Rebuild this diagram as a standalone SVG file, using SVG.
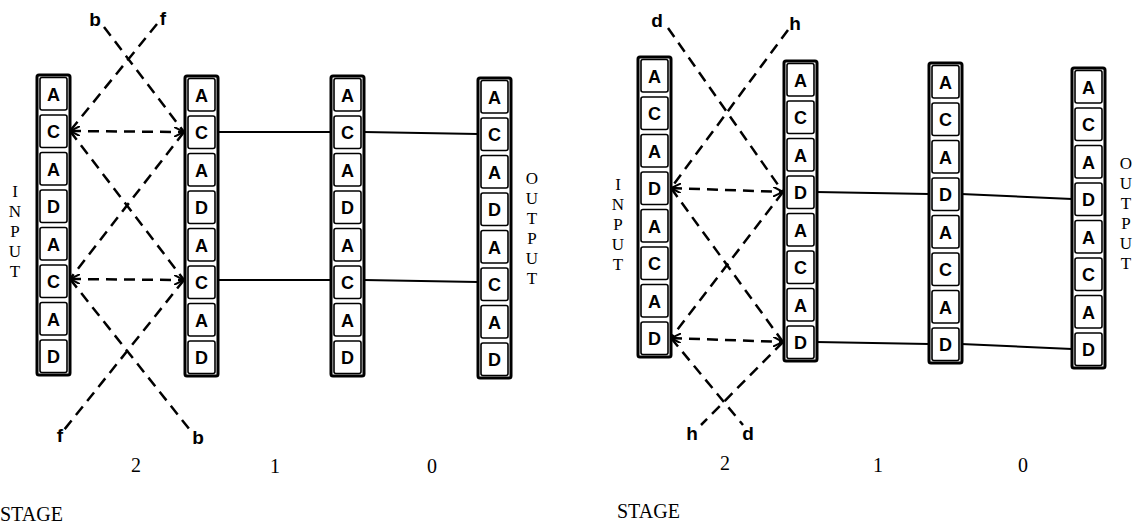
<svg xmlns="http://www.w3.org/2000/svg" width="1144" height="526" viewBox="0 0 1144 526">
<defs>
<style>
.col{fill:#fff;stroke:#000;stroke-width:3}
.cell{fill:#fff;stroke:#000;stroke-width:1.6}
.lt{font-family:"Liberation Sans",Arial,sans-serif;font-weight:bold;font-size:18px;text-anchor:middle;fill:#000}
.lab{font-family:"Liberation Sans",Arial,sans-serif;font-weight:bold;font-size:19px;text-anchor:middle;fill:#000}
.serif{font-family:"Liberation Serif","Times New Roman",serif;font-size:20px;fill:#000}
.vt{font-family:"Liberation Serif","Times New Roman",serif;font-size:17px;text-anchor:middle;fill:#000}
.num{font-family:"Liberation Serif","Times New Roman",serif;font-size:20px;text-anchor:middle;fill:#000}
.solid{stroke:#000;stroke-width:2;fill:none}
.dash{stroke:#000;stroke-width:2.5;fill:none;stroke-dasharray:11 7}
</style>
<marker id="ah" viewBox="0 0 10 10" refX="10" refY="5" markerWidth="10" markerHeight="10" markerUnits="userSpaceOnUse" orient="auto-start-reverse">
<path d="M0,0 L10,5 L0,10" fill="none" stroke="#000" stroke-width="2" stroke-dasharray="none"/>
</marker>
</defs>

<g id="connectors">
<line class="solid" x1="218" y1="132" x2="331" y2="132"/>
<line class="solid" x1="364" y1="132" x2="478" y2="134"/>
<line class="solid" x1="218" y1="280" x2="331" y2="280"/>
<line class="solid" x1="364" y1="280" x2="478" y2="282"/>
<line class="dash" x1="70" y1="131" x2="184" y2="132" marker-start="url(#ah)" marker-end="url(#ah)"/>
<line class="dash" x1="70" y1="279" x2="184" y2="280" marker-start="url(#ah)" marker-end="url(#ah)"/>
<line class="dash" x1="104" y1="27" x2="184" y2="132"/>
<line class="dash" x1="157" y1="24" x2="70" y2="131"/>
<line class="dash" x1="70" y1="131" x2="184" y2="280"/>
<line class="dash" x1="184" y1="132" x2="70" y2="279"/>
<line class="dash" x1="70" y1="279" x2="190" y2="430"/>
<line class="dash" x1="184" y1="280" x2="64" y2="430"/>
<line class="solid" x1="816" y1="192" x2="929" y2="194"/>
<line class="solid" x1="961" y1="194" x2="1072" y2="199"/>
<line class="solid" x1="816" y1="342" x2="929" y2="344"/>
<line class="solid" x1="961" y1="344" x2="1072" y2="349"/>
<line class="dash" x1="671" y1="188" x2="783" y2="192" marker-start="url(#ah)" marker-end="url(#ah)"/>
<line class="dash" x1="671" y1="338" x2="783" y2="342" marker-start="url(#ah)" marker-end="url(#ah)"/>
<line class="dash" x1="668" y1="28" x2="783" y2="192"/>
<line class="dash" x1="788" y1="30" x2="671" y2="188"/>
<line class="dash" x1="671" y1="188" x2="783" y2="342"/>
<line class="dash" x1="783" y1="192" x2="671" y2="338"/>
<line class="dash" x1="671" y1="338" x2="743" y2="425"/>
<line class="dash" x1="783" y1="342" x2="701" y2="425"/>
</g>

<g id="L-col1" transform="translate(37,75)">
<rect class="col" x="0" y="0" width="33" height="300" rx="2"/>
<rect class="cell" x="3" y="2.5" width="27" height="32.5" rx="2"/><text class="lt" x="16.5" y="25.5">A</text>
<rect class="cell" x="3" y="40" width="27" height="32.5" rx="2"/><text class="lt" x="16.5" y="63">C</text>
<rect class="cell" x="3" y="77.5" width="27" height="32.5" rx="2"/><text class="lt" x="16.5" y="100.5">A</text>
<rect class="cell" x="3" y="115" width="27" height="32.5" rx="2"/><text class="lt" x="16.5" y="138">D</text>
<rect class="cell" x="3" y="152.5" width="27" height="32.5" rx="2"/><text class="lt" x="16.5" y="175.5">A</text>
<rect class="cell" x="3" y="190" width="27" height="32.5" rx="2"/><text class="lt" x="16.5" y="213">C</text>
<rect class="cell" x="3" y="227.5" width="27" height="32.5" rx="2"/><text class="lt" x="16.5" y="250.5">A</text>
<rect class="cell" x="3" y="265" width="27" height="32.5" rx="2"/><text class="lt" x="16.5" y="288">D</text>
</g>
<g id="L-col2" transform="translate(185,76)">
<rect class="col" x="0" y="0" width="33" height="300" rx="2"/>
<rect class="cell" x="3" y="2.5" width="27" height="32.5" rx="2"/><text class="lt" x="16.5" y="25.5">A</text>
<rect class="cell" x="3" y="40" width="27" height="32.5" rx="2"/><text class="lt" x="16.5" y="63">C</text>
<rect class="cell" x="3" y="77.5" width="27" height="32.5" rx="2"/><text class="lt" x="16.5" y="100.5">A</text>
<rect class="cell" x="3" y="115" width="27" height="32.5" rx="2"/><text class="lt" x="16.5" y="138">D</text>
<rect class="cell" x="3" y="152.5" width="27" height="32.5" rx="2"/><text class="lt" x="16.5" y="175.5">A</text>
<rect class="cell" x="3" y="190" width="27" height="32.5" rx="2"/><text class="lt" x="16.5" y="213">C</text>
<rect class="cell" x="3" y="227.5" width="27" height="32.5" rx="2"/><text class="lt" x="16.5" y="250.5">A</text>
<rect class="cell" x="3" y="265" width="27" height="32.5" rx="2"/><text class="lt" x="16.5" y="288">D</text>
</g>
<g id="L-col3" transform="translate(331,76)">
<rect class="col" x="0" y="0" width="33" height="300" rx="2"/>
<rect class="cell" x="3" y="2.5" width="27" height="32.5" rx="2"/><text class="lt" x="16.5" y="25.5">A</text>
<rect class="cell" x="3" y="40" width="27" height="32.5" rx="2"/><text class="lt" x="16.5" y="63">C</text>
<rect class="cell" x="3" y="77.5" width="27" height="32.5" rx="2"/><text class="lt" x="16.5" y="100.5">A</text>
<rect class="cell" x="3" y="115" width="27" height="32.5" rx="2"/><text class="lt" x="16.5" y="138">D</text>
<rect class="cell" x="3" y="152.5" width="27" height="32.5" rx="2"/><text class="lt" x="16.5" y="175.5">A</text>
<rect class="cell" x="3" y="190" width="27" height="32.5" rx="2"/><text class="lt" x="16.5" y="213">C</text>
<rect class="cell" x="3" y="227.5" width="27" height="32.5" rx="2"/><text class="lt" x="16.5" y="250.5">A</text>
<rect class="cell" x="3" y="265" width="27" height="32.5" rx="2"/><text class="lt" x="16.5" y="288">D</text>
</g>
<g id="L-col4" transform="translate(478,78)">
<rect class="col" x="0" y="0" width="33" height="300" rx="2"/>
<rect class="cell" x="3" y="2.5" width="27" height="32.5" rx="2"/><text class="lt" x="16.5" y="25.5">A</text>
<rect class="cell" x="3" y="40" width="27" height="32.5" rx="2"/><text class="lt" x="16.5" y="63">C</text>
<rect class="cell" x="3" y="77.5" width="27" height="32.5" rx="2"/><text class="lt" x="16.5" y="100.5">A</text>
<rect class="cell" x="3" y="115" width="27" height="32.5" rx="2"/><text class="lt" x="16.5" y="138">D</text>
<rect class="cell" x="3" y="152.5" width="27" height="32.5" rx="2"/><text class="lt" x="16.5" y="175.5">A</text>
<rect class="cell" x="3" y="190" width="27" height="32.5" rx="2"/><text class="lt" x="16.5" y="213">C</text>
<rect class="cell" x="3" y="227.5" width="27" height="32.5" rx="2"/><text class="lt" x="16.5" y="250.5">A</text>
<rect class="cell" x="3" y="265" width="27" height="32.5" rx="2"/><text class="lt" x="16.5" y="288">D</text>
</g>

<g id="R-col1" transform="translate(638,57)">
<rect class="col" x="0" y="0" width="33" height="300" rx="2"/>
<rect class="cell" x="3" y="2.5" width="27" height="32.5" rx="2"/><text class="lt" x="16.5" y="25.5">A</text>
<rect class="cell" x="3" y="40" width="27" height="32.5" rx="2"/><text class="lt" x="16.5" y="63">C</text>
<rect class="cell" x="3" y="77.5" width="27" height="32.5" rx="2"/><text class="lt" x="16.5" y="100.5">A</text>
<rect class="cell" x="3" y="115" width="27" height="32.5" rx="2"/><text class="lt" x="16.5" y="138">D</text>
<rect class="cell" x="3" y="152.5" width="27" height="32.5" rx="2"/><text class="lt" x="16.5" y="175.5">A</text>
<rect class="cell" x="3" y="190" width="27" height="32.5" rx="2"/><text class="lt" x="16.5" y="213">C</text>
<rect class="cell" x="3" y="227.5" width="27" height="32.5" rx="2"/><text class="lt" x="16.5" y="250.5">A</text>
<rect class="cell" x="3" y="265" width="27" height="32.5" rx="2"/><text class="lt" x="16.5" y="288">D</text>
</g>
<g id="R-col2" transform="translate(784,61)">
<rect class="col" x="0" y="0" width="33" height="300" rx="2"/>
<rect class="cell" x="3" y="2.5" width="27" height="32.5" rx="2"/><text class="lt" x="16.5" y="25.5">A</text>
<rect class="cell" x="3" y="40" width="27" height="32.5" rx="2"/><text class="lt" x="16.5" y="63">C</text>
<rect class="cell" x="3" y="77.5" width="27" height="32.5" rx="2"/><text class="lt" x="16.5" y="100.5">A</text>
<rect class="cell" x="3" y="115" width="27" height="32.5" rx="2"/><text class="lt" x="16.5" y="138">D</text>
<rect class="cell" x="3" y="152.5" width="27" height="32.5" rx="2"/><text class="lt" x="16.5" y="175.5">A</text>
<rect class="cell" x="3" y="190" width="27" height="32.5" rx="2"/><text class="lt" x="16.5" y="213">C</text>
<rect class="cell" x="3" y="227.5" width="27" height="32.5" rx="2"/><text class="lt" x="16.5" y="250.5">A</text>
<rect class="cell" x="3" y="265" width="27" height="32.5" rx="2"/><text class="lt" x="16.5" y="288">D</text>
</g>
<g id="R-col3" transform="translate(929,63)">
<rect class="col" x="0" y="0" width="33" height="300" rx="2"/>
<rect class="cell" x="3" y="2.5" width="27" height="32.5" rx="2"/><text class="lt" x="16.5" y="25.5">A</text>
<rect class="cell" x="3" y="40" width="27" height="32.5" rx="2"/><text class="lt" x="16.5" y="63">C</text>
<rect class="cell" x="3" y="77.5" width="27" height="32.5" rx="2"/><text class="lt" x="16.5" y="100.5">A</text>
<rect class="cell" x="3" y="115" width="27" height="32.5" rx="2"/><text class="lt" x="16.5" y="138">D</text>
<rect class="cell" x="3" y="152.5" width="27" height="32.5" rx="2"/><text class="lt" x="16.5" y="175.5">A</text>
<rect class="cell" x="3" y="190" width="27" height="32.5" rx="2"/><text class="lt" x="16.5" y="213">C</text>
<rect class="cell" x="3" y="227.5" width="27" height="32.5" rx="2"/><text class="lt" x="16.5" y="250.5">A</text>
<rect class="cell" x="3" y="265" width="27" height="32.5" rx="2"/><text class="lt" x="16.5" y="288">D</text>
</g>
<g id="R-col4" transform="translate(1072,68)">
<rect class="col" x="0" y="0" width="33" height="300" rx="2"/>
<rect class="cell" x="3" y="2.5" width="27" height="32.5" rx="2"/><text class="lt" x="16.5" y="25.5">A</text>
<rect class="cell" x="3" y="40" width="27" height="32.5" rx="2"/><text class="lt" x="16.5" y="63">C</text>
<rect class="cell" x="3" y="77.5" width="27" height="32.5" rx="2"/><text class="lt" x="16.5" y="100.5">A</text>
<rect class="cell" x="3" y="115" width="27" height="32.5" rx="2"/><text class="lt" x="16.5" y="138">D</text>
<rect class="cell" x="3" y="152.5" width="27" height="32.5" rx="2"/><text class="lt" x="16.5" y="175.5">A</text>
<rect class="cell" x="3" y="190" width="27" height="32.5" rx="2"/><text class="lt" x="16.5" y="213">C</text>
<rect class="cell" x="3" y="227.5" width="27" height="32.5" rx="2"/><text class="lt" x="16.5" y="250.5">A</text>
<rect class="cell" x="3" y="265" width="27" height="32.5" rx="2"/><text class="lt" x="16.5" y="288">D</text>
</g>

<g id="labels">
<text class="lab" x="95" y="26">b</text>
<text class="lab" x="163" y="25">f</text>
<text class="lab" x="60" y="442">f</text>
<text class="lab" x="198" y="444">b</text>
<text class="lab" x="657" y="27">d</text>
<text class="lab" x="795" y="30">h</text>
<text class="lab" x="692" y="440">h</text>
<text class="lab" x="748" y="440">d</text>

<text class="vt"><tspan x="15" y="197">I</tspan><tspan x="15" y="217">N</tspan><tspan x="15" y="237">P</tspan><tspan x="15" y="257">U</tspan><tspan x="15" y="277">T</tspan></text>
<text class="vt"><tspan x="532" y="184">O</tspan><tspan x="532" y="204">U</tspan><tspan x="532" y="224">T</tspan><tspan x="532" y="244">P</tspan><tspan x="532" y="264">U</tspan><tspan x="532" y="284">T</tspan></text>
<text class="vt"><tspan x="618" y="190">I</tspan><tspan x="618" y="210">N</tspan><tspan x="618" y="230">P</tspan><tspan x="618" y="250">U</tspan><tspan x="618" y="270">T</tspan></text>
<text class="vt"><tspan x="1126" y="169">O</tspan><tspan x="1126" y="189">U</tspan><tspan x="1126" y="209">T</tspan><tspan x="1126" y="229">P</tspan><tspan x="1126" y="249">U</tspan><tspan x="1126" y="269">T</tspan></text>

<text class="num" x="136" y="472">2</text>
<text class="num" x="275" y="473">1</text>
<text class="num" x="432" y="473">0</text>
<text class="num" x="725" y="470">2</text>
<text class="num" x="878" y="472">1</text>
<text class="num" x="1023" y="472">0</text>
<text class="serif" x="0" y="521">STAGE</text>
<text class="serif" x="617" y="518">STAGE</text>
</g>
</svg>
